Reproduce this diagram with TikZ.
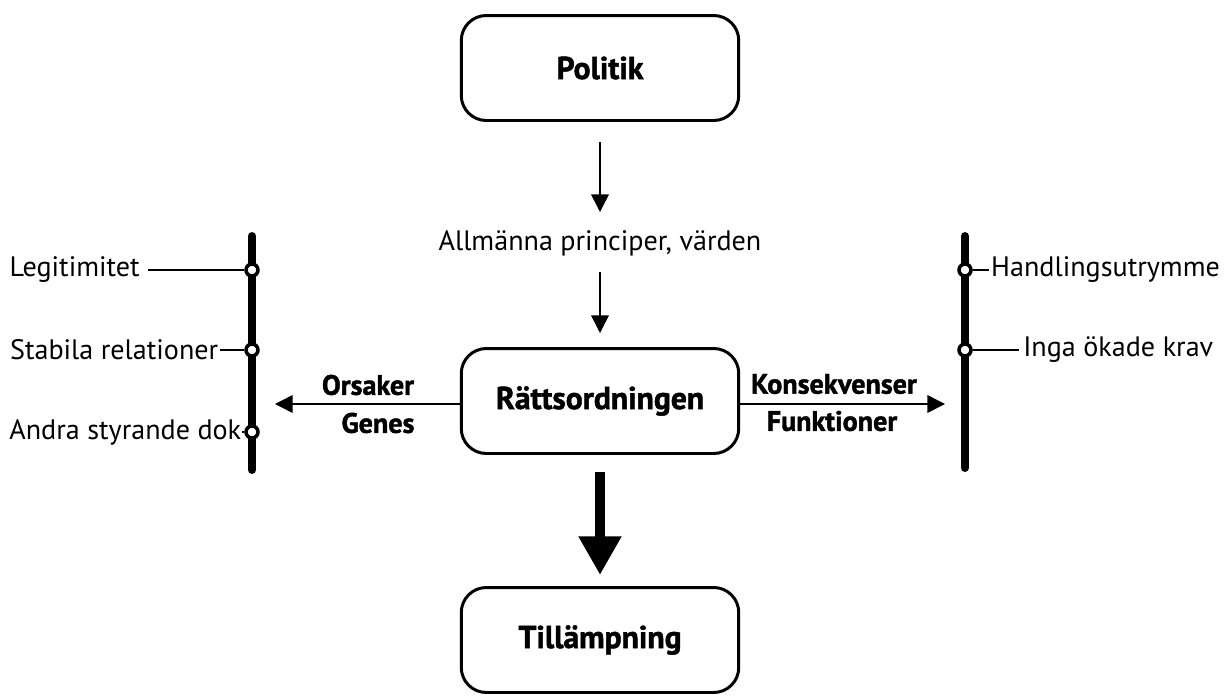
\documentclass[tikz,border=0pt]{standalone}
\usepackage{fontspec}
\setmainfont{PT Sans}[BoldFeatures={FakeBold=1.5}]
\usetikzlibrary{positioning,arrows.meta}

\tikzset{
  ruta/.style={rectangle,rounded corners=0.5cm,draw,black,line width=1.7pt,
    minimum width=5.55cm,minimum height=2.1cm,font=\fontsize{18}{21}\selectfont\bfseries},
  pil/.style={line width=0.85pt,-{Triangle[length=10pt,width=10pt]}},
  ring/.style={circle,draw,fill=white,line width=2pt,inner sep=0pt,minimum size=0.24cm},
  stang/.style={line width=4.5pt,line cap=round},
  etikett/.style={font=\fontsize{16}{19}\selectfont,inner sep=2.5pt},
  fet/.style={font=\fontsize{16}{19}\selectfont\bfseries,inner sep=0pt}
}

\begin{document}
\begin{tikzpicture}[x=0.02cm,y=-0.02cm]
\useasboundingbox (0,0) rectangle (1224,697);

% boxarna i mitten
\node[ruta](politik) at (600,68){Politik};
\node[ruta](ratt) at (600,401){Rättsordningen};
\node[ruta](tillamp) at (600,640){Tillämpning};

\node[etikett](princip) at (600,243){Allmänna principer, värden};

% tunna pilar nedat
\coordinate (p1) at (600,142);
\coordinate (p2) at (600,212);
\coordinate (p3) at (600,272);
\coordinate (p4) at (600,333);
\draw[pil] (p1) -- (p2);
\draw[pil] (p3) -- (p4);

% tjock pil nedat
\coordinate (t1) at (600,472);
\coordinate (t2) at (600,575);
\draw[line width=5.7pt,-{Triangle[length=22pt,width=23pt]}] (t1) -- (t2);

% vanster stang
\coordinate (vtop) at (252,236);
\coordinate (vbot) at (252,470);
\draw[stang] (vtop) -- (vbot);
\node[ring](v1) at (252,270){};
\node[ring](v2) at (252,350){};
\node[ring](v3) at (252,432){};

\node[etikett,anchor=west](legit) at (5,270){Legitimitet};
\node[etikett,anchor=west,inner sep=1pt](stabil) at (8,350){Stabila relationer};
\node[etikett,anchor=west,inner sep=0pt](andra) at (9,432){Andra styrande dok};
\draw[line width=0.85pt] (legit.east)++(4,0) -- (v1);
\draw[line width=0.85pt] (stabil) -- (v2);
\draw[line width=0.85pt] (andra) -- (v3);

% hoger stang
\coordinate (htop) at (965,236);
\coordinate (hbot) at (965,468);
\draw[stang] (htop) -- (hbot);
\node[ring](h1) at (965,270){};
\node[ring](h2) at (965,350){};

\node[etikett,anchor=east,inner sep=1pt](handl) at (1222,270){Handlingsutrymme};
\node[etikett,anchor=east](inga) at (1218,350){Inga ökade krav};
\draw[line width=0.85pt] (h1) -- (handl);
\draw[line width=0.85pt] (h2) -- (inga);

% pilar at sidorna
\coordinate (vpil) at (275,404);
\coordinate (hpil) at (945,404);
\draw[pil] (ratt.west |- vpil) -- (vpil);
\draw[pil] (ratt.east |- hpil) -- (hpil);

\node[fet](orsak) at (368,385){Orsaker};
\node[fet](genes) at (378,423){Genes};
\node[fet](konsek) at (834,384){Konsekvenser};
\node[fet](funk) at (832,421){Funktioner};

\end{tikzpicture}
\end{document}
